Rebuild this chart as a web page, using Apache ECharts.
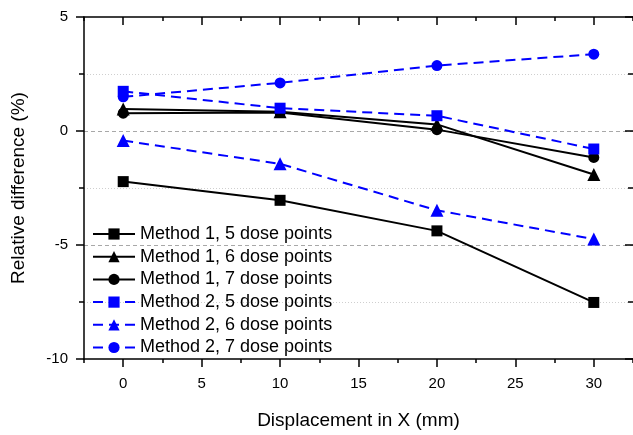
<!DOCTYPE html>
<html>
<head>
<meta charset="utf-8">
<script src="https://cdn.jsdelivr.net/npm/echarts@6/dist/echarts.min.js"></script>
<style>
  html, body { margin: 0; padding: 0; background: #fff; }
  #chart { width: 633px; height: 435px; }
</style>
</head>
<body>
<div id="chart"></div>
<script>
// displacement values (mm)
var displacement = [0, 10, 20, 30];

// relative difference (%)
var m1p5 = [-2.22, -3.04, -4.38, -7.52];
var m1p6 = [0.97, 0.84, 0.29, -1.91];
var m1p7 = [0.78, 0.81, 0.06, -1.16];
var m2p5 = [1.74, 1.0, 0.67, -0.79];
var m2p6 = [-0.42, -1.44, -3.48, -4.74];
var m2p7 = [1.5, 2.11, 2.87, 3.37];

var xMajor = [0, 5, 10, 15, 20, 25, 30];
var xMinor = [-2.5, 2.5, 7.5, 12.5, 17.5, 22.5, 27.5, 32.5];

var FONT = 'Liberation Sans, Arial, sans-serif';

var chart = echarts.init(document.getElementById('chart'));

function pairs(ys) {
  return displacement.map(function (x, i) { return [x, ys[i]]; });
}

function makeSeries(name, ys, method, symbol) {
  var black = method === 1;
  var color = black ? '#000000' : '#0000ff';
  return {
    name: name,
    type: 'line',
    data: pairs(ys),
    symbol: symbol,
    symbolSize: symbol === 'triangle' ? 13 : 11,
    color: color,
    lineStyle: {
      color: color,
      width: 2,
      type: black ? 'solid' : [10, 6]
    },
    itemStyle: { color: color },
    emphasis: { disabled: true },
    animation: false
  };
}

// x axis pieces: bottom major/minor, top major/minor (mirrored)
function xPart(pos, ticks, len, inside, showLine, showLabel) {
  return {
    type: 'value',
    position: pos,
    min: -2.5,
    max: 32.5,
    axisLine: { show: showLine, onZero: false, lineStyle: { color: '#000', width: 1.5 } },
    axisTick: {
      show: true,
      customValues: ticks,
      length: len,
      inside: inside,
      lineStyle: { color: '#000', width: 1.5 }
    },
    axisLabel: showLabel ? {
      show: true,
      customValues: xMajor,
      color: '#000',
      fontSize: 15,
      fontFamily: FONT,
      margin: 17
    } : { show: false },
    splitLine: { show: false }
  };
}

var xBottom = xPart('bottom', xMajor, 8, false, true, true);
xBottom.name = 'Displacement in X (mm)';
xBottom.nameLocation = 'middle';
xBottom.nameGap = 52;
xBottom.nameTextStyle = { color: '#000', fontSize: 19, fontFamily: FONT };

var option = {
  backgroundColor: '#fff',
  animation: false,
  grid: { left: 84, right: -1, top: 17, bottom: 72, containLabel: false },
  legend: {
    orient: 'vertical',
    left: 92,
    top: 225,
    padding: 0,
    itemGap: 4.7,
    itemWidth: 42,
    itemHeight: 14,
    textStyle: { color: '#000', fontSize: 18, fontFamily: FONT, padding: [0, 0, 0, 0] },
    data: [
      'Method 1, 5 dose points',
      'Method 1, 6 dose points',
      'Method 1, 7 dose points',
      'Method 2, 5 dose points',
      'Method 2, 6 dose points',
      'Method 2, 7 dose points'
    ]
  },
  xAxis: [
    xBottom,
    xPart('bottom', xMinor, 4, false, false, false),
    xPart('top', xMajor, 8, true, true, false),
    xPart('top', xMinor, 4, true, false, false)
  ],
  yAxis: [
    {
      type: 'value',
      position: 'left',
      min: -10,
      max: 5,
      interval: 5,
      name: 'Relative difference (%)',
      nameLocation: 'middle',
      nameGap: 56,
      nameTextStyle: { color: '#000', fontSize: 19, fontFamily: FONT },
      axisLine: { show: true, onZero: false, lineStyle: { color: '#000', width: 1.5 } },
      axisTick: { show: true, length: 8, lineStyle: { color: '#000', width: 1.5 } },
      minorTick: { show: true, splitNumber: 2, length: 5, lineStyle: { color: '#000', width: 1.5 } },
      axisLabel: { color: '#000', fontSize: 15, fontFamily: FONT, margin: 16 },
      splitLine: {
        show: true,
        showMinLine: false,
        showMaxLine: false,
        lineStyle: { color: '#a8a8a8', width: 1, type: [4, 3] }
      },
      minorSplitLine: {
        show: true,
        lineStyle: { color: '#cfcfcf', width: 1, type: [1, 2] }
      }
    },
    {
      type: 'value',
      position: 'right',
      min: -10,
      max: 5,
      interval: 5,
      // the right spine sits just outside the picture; only the tick stubs show
      axisLine: { show: false, onZero: false },
      axisTick: { show: true, inside: true, length: 8, lineStyle: { color: '#000', width: 1.5 } },
      minorTick: { show: true, splitNumber: 2, length: 5, lineStyle: { color: '#000', width: 1.5 } },
      axisLabel: { show: false },
      splitLine: { show: false }
    }
  ],
  series: [
    makeSeries('Method 1, 5 dose points', m1p5, 1, 'rect'),
    makeSeries('Method 1, 6 dose points', m1p6, 1, 'triangle'),
    makeSeries('Method 1, 7 dose points', m1p7, 1, 'circle'),
    makeSeries('Method 2, 5 dose points', m2p5, 2, 'rect'),
    makeSeries('Method 2, 6 dose points', m2p6, 2, 'triangle'),
    makeSeries('Method 2, 7 dose points', m2p7, 2, 'circle')
  ]
};

chart.setOption(option);
</script>
</body>
</html>
